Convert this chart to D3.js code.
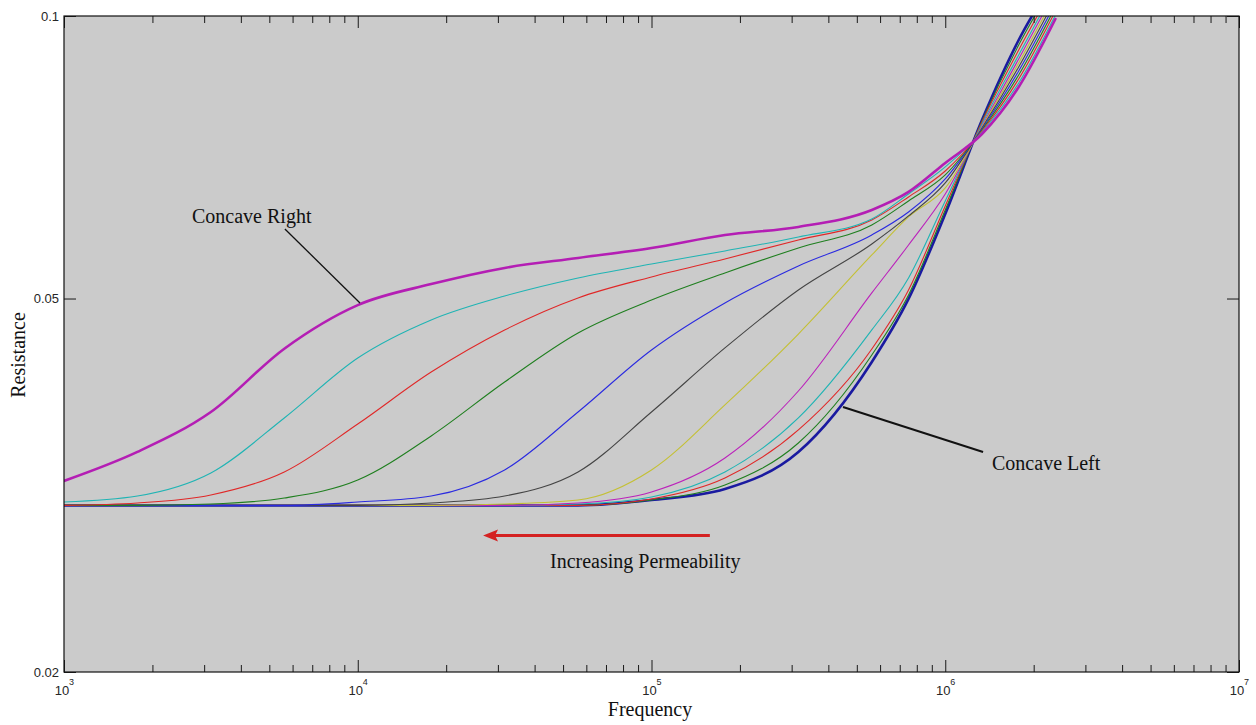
<!DOCTYPE html>
<html>
<head>
<meta charset="utf-8">
<script src="https://cdn.jsdelivr.net/npm/d3@7"></script>
<style>
  body { margin: 0; background: #ffffff; }
  svg { display: block; }
</style>
</head>
<body>
<svg id="chart" width="1256" height="725"></svg>
<script>
// Sampling frequencies (Hz), shared by every curve
const frequency = [1000, 1778, 3162, 5623, 10000, 17783, 31623, 56234, 100000,
  177828, 316228, 562341, 749894, 1000000, 1333521, 1778279, 2371374];

// Resistance per curve, lowest permeability first (plotted first)
const curve01 = [0.0301, 0.0301, 0.0301, 0.0301, 0.0301, 0.0301, 0.0301, 0.0301, 0.03050, 0.03134, 0.03431, 0.04279, 0.04995, 0.06153, 0.07748, 0.09428, 0.1098];
const curve02 = [0.0301, 0.0301, 0.0301, 0.0301, 0.0301, 0.0301, 0.0301, 0.0301, 0.03050, 0.03164, 0.03508, 0.04353, 0.05044, 0.06213, 0.07729, 0.09313, 0.1090];
const curve03 = [0.0301, 0.0301, 0.0301, 0.0301, 0.0301, 0.0301, 0.0301, 0.0301, 0.03058, 0.03219, 0.03622, 0.04418, 0.05106, 0.06275, 0.07710, 0.09200, 0.1082];
const curve04 = [0.0301, 0.0301, 0.0301, 0.0301, 0.0301, 0.0301, 0.0301, 0.03020, 0.03073, 0.03267, 0.03730, 0.04629, 0.05259, 0.06352, 0.07672, 0.09088, 0.1074];
const curve05 = [0.0301, 0.0301, 0.0301, 0.0301, 0.0301, 0.0301, 0.0301, 0.03028, 0.03111, 0.03381, 0.03985, 0.05069, 0.05702, 0.06462, 0.07635, 0.08999, 0.1063];
const curve06 = [0.0301, 0.0301, 0.0301, 0.0301, 0.0301, 0.0301, 0.03020, 0.03050, 0.03283, 0.03851, 0.04583, 0.05564, 0.06108, 0.06558, 0.07616, 0.08911, 0.1053];
const curve07 = [0.0301, 0.0301, 0.0301, 0.0301, 0.0301, 0.03028, 0.03080, 0.03267, 0.03785, 0.04429, 0.05106, 0.05716, 0.06123, 0.06639, 0.07597, 0.08824, 0.1043];
const curve08 = [0.0301, 0.0301, 0.0301, 0.0301, 0.03035, 0.03080, 0.03283, 0.03785, 0.04407, 0.04946, 0.05416, 0.05844, 0.06183, 0.06705, 0.07579, 0.08738, 0.1032];
const curve09 = [0.0301, 0.0301, 0.03020, 0.03065, 0.03203, 0.03569, 0.04074, 0.04595, 0.04982, 0.05324, 0.05660, 0.05989, 0.06352, 0.06771, 0.07560, 0.08652, 0.1022];
const curve10 = [0.0301, 0.03028, 0.03088, 0.03267, 0.03675, 0.04175, 0.04629, 0.05007, 0.05272, 0.05510, 0.05772, 0.06063, 0.06415, 0.06837, 0.07542, 0.08568, 0.1012];
const curve11 = [0.03035, 0.03080, 0.03259, 0.03730, 0.04321, 0.04744, 0.05031, 0.05259, 0.05442, 0.05619, 0.05815, 0.06078, 0.06462, 0.06905, 0.07523, 0.08484, 0.1002];
const curve12 = [0.03196, 0.03432, 0.03785, 0.04421, 0.04920, 0.05180, 0.05390, 0.05523, 0.05660, 0.05844, 0.05960, 0.06213, 0.06494, 0.06973, 0.07486, 0.08401, 0.09927];

const curves = [curve01, curve02, curve03, curve04, curve05, curve06,
                curve07, curve08, curve09, curve10, curve11, curve12];

// Line styles, same order as the curves
const curveColors = ["#1a1aa0", "#1f7f1f", "#e02828", "#1fb4b4", "#bb22bb", "#c4c034",
                     "#444444", "#2a2ae0", "#1f7f1f", "#e02828", "#1fb4b4", "#b41eb4"];
const curveWidths = [2.6, 1.1, 1.1, 1.1, 1.1, 1.1, 1.1, 1.1, 1.1, 1.1, 1.1, 2.6];

// Axis ticks
const xMajorExponents = [3, 4, 5, 6, 7];
const yTickValues = [0.02, 0.05, 0.1];
const yTickLabels = ["0.02", "0.05", "0.1"];

// Annotations, anchored in data coordinates [frequency, resistance]
const concaveRightText = [2728, 0.06018];
const concaveRightLeader = [[5649, 0.0593], [10178, 0.04946]];
const concaveLeftText = [1443000, 0.03283];
const concaveLeftLeader = [[448700, 0.03832], [1345000, 0.03431]];
const permeabilityArrow = [[158000, 0.02796], [26700, 0.02796]];
const permeabilityText = [45130, 0.02581];

const svg = d3.select("#chart");
const plot = { left: 64, right: 1239, top: 16, bottom: 672 };

const x = d3.scaleLog().domain([1e3, 1e7]).range([plot.left, plot.right]);
const y = d3.scaleLog().domain([0.02, 0.1]).range([plot.bottom, plot.top]);

// Axes background
svg.append("rect")
  .attr("x", plot.left).attr("y", plot.top)
  .attr("width", plot.right - plot.left).attr("height", plot.bottom - plot.top)
  .attr("fill", "#cbcbcb");

svg.append("clipPath").attr("id", "plot-clip")
  .append("rect")
  .attr("x", plot.left).attr("y", plot.top)
  .attr("width", plot.right - plot.left).attr("height", plot.bottom - plot.top);

// Curves
const line = d3.line()
  .x(d => x(d[0]))
  .y(d => y(d[1]))
  .curve(d3.curveMonotoneX);

const curveLayer = svg.append("g").attr("clip-path", "url(#plot-clip)");
curves.forEach((values, i) => {
  curveLayer.append("path")
    .datum(frequency.map((f, k) => [f, values[k]]))
    .attr("d", line)
    .attr("fill", "none")
    .attr("stroke", curveColors[i])
    .attr("stroke-width", curveWidths[i])
    .attr("stroke-linejoin", "round")
    .attr("stroke-linecap", "round");
});

// Ticks
const xMajor = xMajorExponents.map(e => Math.pow(10, e));
const xMinor = [];
for (let e = 3; e < 7; e++) for (let m = 2; m <= 9; m++) xMinor.push(m * Math.pow(10, e));

function styleAxis(g) {
  g.select(".domain").remove();
  g.selectAll(".tick line").attr("stroke", "#1a1a1a").attr("stroke-width", 1);
}

svg.append("g").attr("transform", `translate(0,${plot.bottom})`)
  .call(d3.axisBottom(x).tickValues(xMinor).tickSize(-7).tickFormat(""))
  .call(styleAxis);
svg.append("g").attr("transform", `translate(0,${plot.bottom})`)
  .call(d3.axisBottom(x).tickValues(xMajor).tickSize(-12).tickFormat(""))
  .call(styleAxis);
svg.append("g").attr("transform", `translate(0,${plot.top})`)
  .call(d3.axisTop(x).tickValues(xMinor).tickSize(-7).tickFormat(""))
  .call(styleAxis);
svg.append("g").attr("transform", `translate(0,${plot.top})`)
  .call(d3.axisTop(x).tickValues(xMajor).tickSize(-12).tickFormat(""))
  .call(styleAxis);

const yLeft = svg.append("g").attr("transform", `translate(${plot.left},0)`)
  .call(d3.axisLeft(y).tickValues(yTickValues).tickSize(-12).tickPadding(5)
        .tickFormat((d, i) => yTickLabels[i]))
  .call(styleAxis);
yLeft.selectAll(".tick text")
  .attr("font-family", "'Liberation Sans', Arial, sans-serif")
  .attr("font-size", 13)
  .attr("fill", "#262626");

svg.append("g").attr("transform", `translate(${plot.right},0)`)
  .call(d3.axisRight(y).tickValues(yTickValues).tickSize(-12).tickFormat(""))
  .call(styleAxis);

// Box
svg.append("rect")
  .attr("x", plot.left).attr("y", plot.top)
  .attr("width", plot.right - plot.left).attr("height", plot.bottom - plot.top)
  .attr("fill", "none").attr("stroke", "#111").attr("stroke-width", 1.2);

// Power-of-ten tick labels
const xLabels = svg.append("g")
  .attr("font-family", "'Liberation Sans', Arial, sans-serif")
  .attr("fill", "#262626");
xMajorExponents.forEach(e => {
  const px = x(Math.pow(10, e));
  xLabels.append("text").attr("x", px - 2).attr("y", plot.bottom + 23)
    .attr("text-anchor", "middle").attr("font-size", 13).text("10");
  xLabels.append("text").attr("x", px + 5).attr("y", plot.bottom + 13)
    .attr("text-anchor", "start").attr("font-size", 9).text(String(e));
});

// Axis titles
const serif = "'Liberation Serif', 'Times New Roman', serif";
svg.append("text")
  .attr("x", 650).attr("y", 716)
  .attr("text-anchor", "middle")
  .attr("font-family", serif).attr("font-size", 20).attr("fill", "#111")
  .text("Frequency");
svg.append("text")
  .attr("transform", `translate(25,${(plot.top + plot.bottom) / 2 + 11}) rotate(-90)`)
  .attr("text-anchor", "middle")
  .attr("font-family", serif).attr("font-size", 20).attr("fill", "#111")
  .text("Resistance");

// Annotations
const notes = svg.append("g").attr("font-family", serif).attr("font-size", 20).attr("fill", "#111");

notes.append("text")
  .attr("x", x(concaveRightText[0])).attr("y", y(concaveRightText[1]))
  .text("Concave Right");
svg.append("line")
  .attr("x1", x(concaveRightLeader[0][0])).attr("y1", y(concaveRightLeader[0][1]))
  .attr("x2", x(concaveRightLeader[1][0])).attr("y2", y(concaveRightLeader[1][1]))
  .attr("stroke", "#111").attr("stroke-width", 1.3);

notes.append("text")
  .attr("x", x(concaveLeftText[0])).attr("y", y(concaveLeftText[1]))
  .text("Concave Left");
svg.append("line")
  .attr("x1", x(concaveLeftLeader[0][0])).attr("y1", y(concaveLeftLeader[0][1]))
  .attr("x2", x(concaveLeftLeader[1][0])).attr("y2", y(concaveLeftLeader[1][1]))
  .attr("stroke", "#111").attr("stroke-width", 2);

notes.append("text")
  .attr("x", x(permeabilityText[0])).attr("y", y(permeabilityText[1]))
  .text("Increasing Permeability");

// Direction arrow
const ax0 = x(permeabilityArrow[0][0]), ay0 = y(permeabilityArrow[0][1]);
const ax1 = x(permeabilityArrow[1][0]), ay1 = y(permeabilityArrow[1][1]);
svg.append("line")
  .attr("x1", ax0).attr("y1", ay0).attr("x2", ax1 + 10).attr("y2", ay1)
  .attr("stroke", "#d42222").attr("stroke-width", 3);
svg.append("path")
  .attr("d", `M${ax1},${ay1} L${ax1 + 15},${ay1 - 6} L${ax1 + 12},${ay1} L${ax1 + 15},${ay1 + 6} Z`)
  .attr("fill", "#d42222");
</script>
</body>
</html>
